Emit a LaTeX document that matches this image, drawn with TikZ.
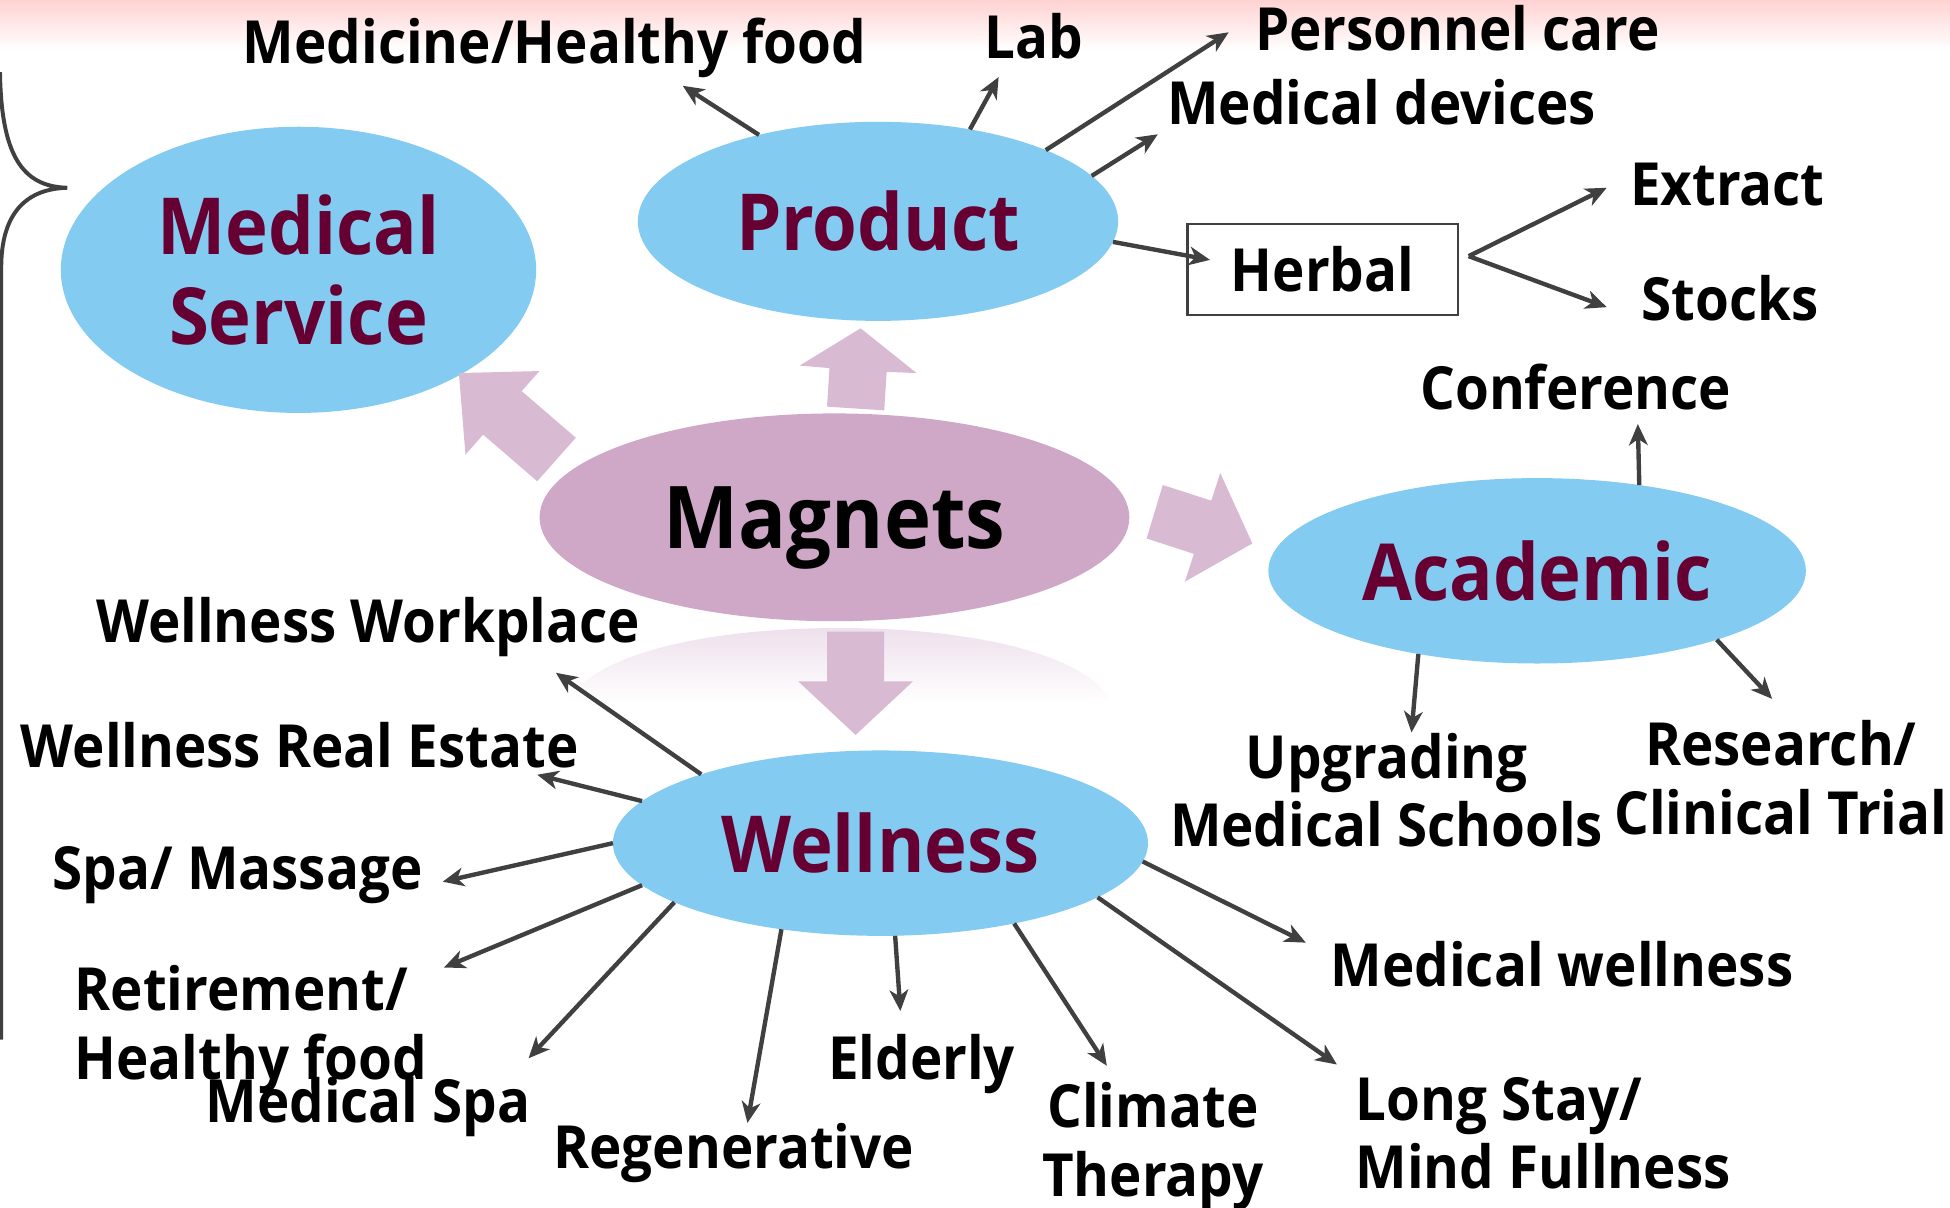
\documentclass[tikz,border=0pt]{standalone}
\usepackage{fontspec}
\setmainfont{Open Sans}[FakeStretch=0.92]
\usetikzlibrary{shapes.geometric,arrows.meta}
\definecolor{skyb}{RGB}{131,203,241}
\definecolor{mauve}{RGB}{207,168,200}
\definecolor{arrowpk}{RGB}{217,186,211}
\definecolor{maroon}{RGB}{102,0,51}
\definecolor{dgray}{RGB}{64,64,64}
\definecolor{bandpk}{RGB}{255,208,208}
\definecolor{reflpk}{RGB}{238,224,236}
\begin{document}
\begin{tikzpicture}[x=0.01cm,y=-0.01cm,
  lbl/.style={font=\fontsize{13.6}{15.7}\selectfont\bfseries, inner sep=0pt, outer sep=0pt},
  bubble/.style={ellipse, fill=skyb, inner sep=0pt, outer sep=0pt, text=maroon, align=center,
                 font=\fontsize{18}{20.5}\selectfont\bfseries},
  conn/.style={draw=dgray, line width=1.0pt, -{Stealth[length=1.7mm,width=1.5mm,inset=0.5mm]}},
  blockarr/.style={fill=arrowpk, draw=none}]
\useasboundingbox (0,0) rectangle (1568,971);
\clip (0,0) rectangle (1568,971);

% top band
\shade[top color=bandpk, bottom color=white] (0,-2) rectangle (1568,40);

% left brace
\draw[dgray, line width=0.9pt] (0,58) .. controls (1,125) and (18,150) .. (54,151)
  .. controls (18,152) and (1,175) .. (1,215) -- (1,836);

% reflection under Magnets
\shade[top color=reflpk, bottom color=white]
  (455,565) .. controls (480,522) and (580,505) .. (675,505)
  .. controls (770,505) and (870,522) .. (895,565) -- cycle;

% main ellipses
\node[bubble, minimum width=3.82cm, minimum height=2.30cm] (ms) at (240,217) {Medical\\Service};
\node[bubble, minimum width=3.86cm, minimum height=1.60cm] (prod) at (706,178) {Product};
\node[bubble, fill=mauve, text=black, minimum width=4.74cm, minimum height=1.67cm,
      font=\fontsize{19.8}{22}\selectfont\bfseries, text depth=0pt] (mag) at (671,416) {Magnets};
\node[bubble, minimum width=4.32cm, minimum height=1.49cm] (acad) at (1236,459) {Academic};
\node[bubble, minimum width=4.30cm, minimum height=1.49cm] (well) at (708,678) {Wellness};

% block arrows from Magnets
\fill[blockarr] (665,327) -- (667,296) -- (643,294) -- (692,264) -- (737,300) -- (713,299) -- (711,330) -- cycle;
\fill[blockarr] (463,352) -- (419.5,314.5) -- (433.7,298.4) -- (369,300) -- (374.3,365.6) -- (388.5,349.5) -- (432,387) -- cycle;
\fill[blockarr] (935,390) -- (974,402.6) -- (981.2,380.3) -- (1007,437) -- (952.8,467.7) -- (960,445.4) -- (922,433) -- cycle;
\fill[blockarr] (665,508) -- (665,548) -- (642,548) -- (688,591) -- (734,548) -- (711,548) -- (711,508) -- cycle;

% Herbal box
\node[draw=dgray, line width=0.5pt, minimum width=2.17cm, minimum height=0.73cm, inner sep=0pt,
      font=\fontsize{13.6}{15.7}\selectfont\bfseries] (herbal) at (1063.5,216.5) {Herbal};

% labels (multi-line labels anchored at the baseline of their last line)
\node[lbl, anchor=base] (lMed) at (446,51) {Medicine/Healthy food};
\node[lbl, anchor=base] (lLab) at (831,47) {Lab};
\node[lbl, anchor=base] (lPers) at (1172,41) {Personnel care};
\node[lbl, anchor=base] (lDev) at (1111,100) {Medical devices};
\node[lbl, anchor=base] (lExt) at (1389,165) {Extract};
\node[lbl, anchor=base] (lSto) at (1391,258) {Stocks};
\node[lbl, anchor=base] (lConf) at (1267,329) {Conference};
\node[lbl, anchor=base, align=center] (lUpg) at (1115,681) {Upgrading\\Medical Schools};
\node[lbl, anchor=base, align=center] (lRes) at (1432,671) {Research/\\Clinical Trial};
\node[lbl, anchor=base] (lWW) at (296,517) {Wellness Workplace};
\node[lbl, anchor=base] (lWRE) at (241,617) {Wellness Real Estate};
\node[lbl, anchor=base] (lSpa) at (191,715) {Spa/ Massage};
\node[lbl, anchor=base west, align=left] (lRet) at (60,868) {Retirement/\\Healthy food};
\node[lbl, anchor=base] (lMSpa) at (296,903) {Medical Spa};
\node[lbl, anchor=base] (lReg) at (590,940) {Regenerative};
\node[lbl, anchor=base] (lEld) at (741,868) {Elderly};
\node[lbl, anchor=base, align=center] (lCli) at (927,962) {Climate\\Therapy};
\node[lbl, anchor=base west, align=left] (lLong) at (1090,956) {Long Stay/\\Mind Fullness};
\node[lbl, anchor=base] (lMW) at (1256,793) {Medical wellness};

% arrow end coordinates
\coordinate (cMed) at (549,69);
\coordinate (cLab) at (803,62);
\coordinate (cPers) at (988,26);
\coordinate (cDev) at (931,108);
\coordinate (cHerb) at (973,209);
\coordinate (hR) at (1181,206);
\coordinate (cExt) at (1292,151);
\coordinate (cSto) at (1292,247);
\coordinate (cConf) at (1317,341);
\coordinate (cUpg) at (1135,589);
\coordinate (cRes) at (1425,562);
\coordinate (cWW) at (447,541);
\coordinate (cWRE) at (432,623);
\coordinate (cSpa) at (356,709);
\coordinate (cRet) at (357,778);
\coordinate (cMSpa) at (425,851);
\coordinate (cReg) at (601,903);
\coordinate (cEld) at (724,813);
\coordinate (cCli) at (890,857);
\coordinate (cLong) at (1075,856);
\coordinate (cMW) at (1050,758);

% connectors
\draw[conn] (prod.144.3) -- (cMed);
\draw[conn] (prod.45.4) -- (cLab);
\draw[conn] (prod.23.4) -- (cPers);
\draw[conn] (prod.12.6) -- (cDev);
\draw[conn] (prod.-5.1) -- (cHerb);
\draw[conn] (hR) -- (cExt);
\draw[conn] (hR) -- (cSto);
\draw[conn] (acad.40.6) -- (cConf);
\draw[conn] (acad.215.4) -- (cUpg);
\draw[conn] (acad.-21.6) -- (cRes);
\draw[conn] (well.159.8) -- (cWW);
\draw[conn] (well.170) -- (cWRE);
\draw[conn] (well.180) -- (cSpa);
\draw[conn] (well.190.4) -- (cRet);
\draw[conn] (well.196.7) -- (cMSpa);
\draw[conn] (well.221.3) -- (cReg);
\draw[conn] (well.279.3) -- (cEld);
\draw[conn] (well.329.3) -- (cCli);
\draw[conn] (well.346.5) -- (cLong);
\draw[conn] (well.356.9) -- (cMW);
\end{tikzpicture}
\end{document}
